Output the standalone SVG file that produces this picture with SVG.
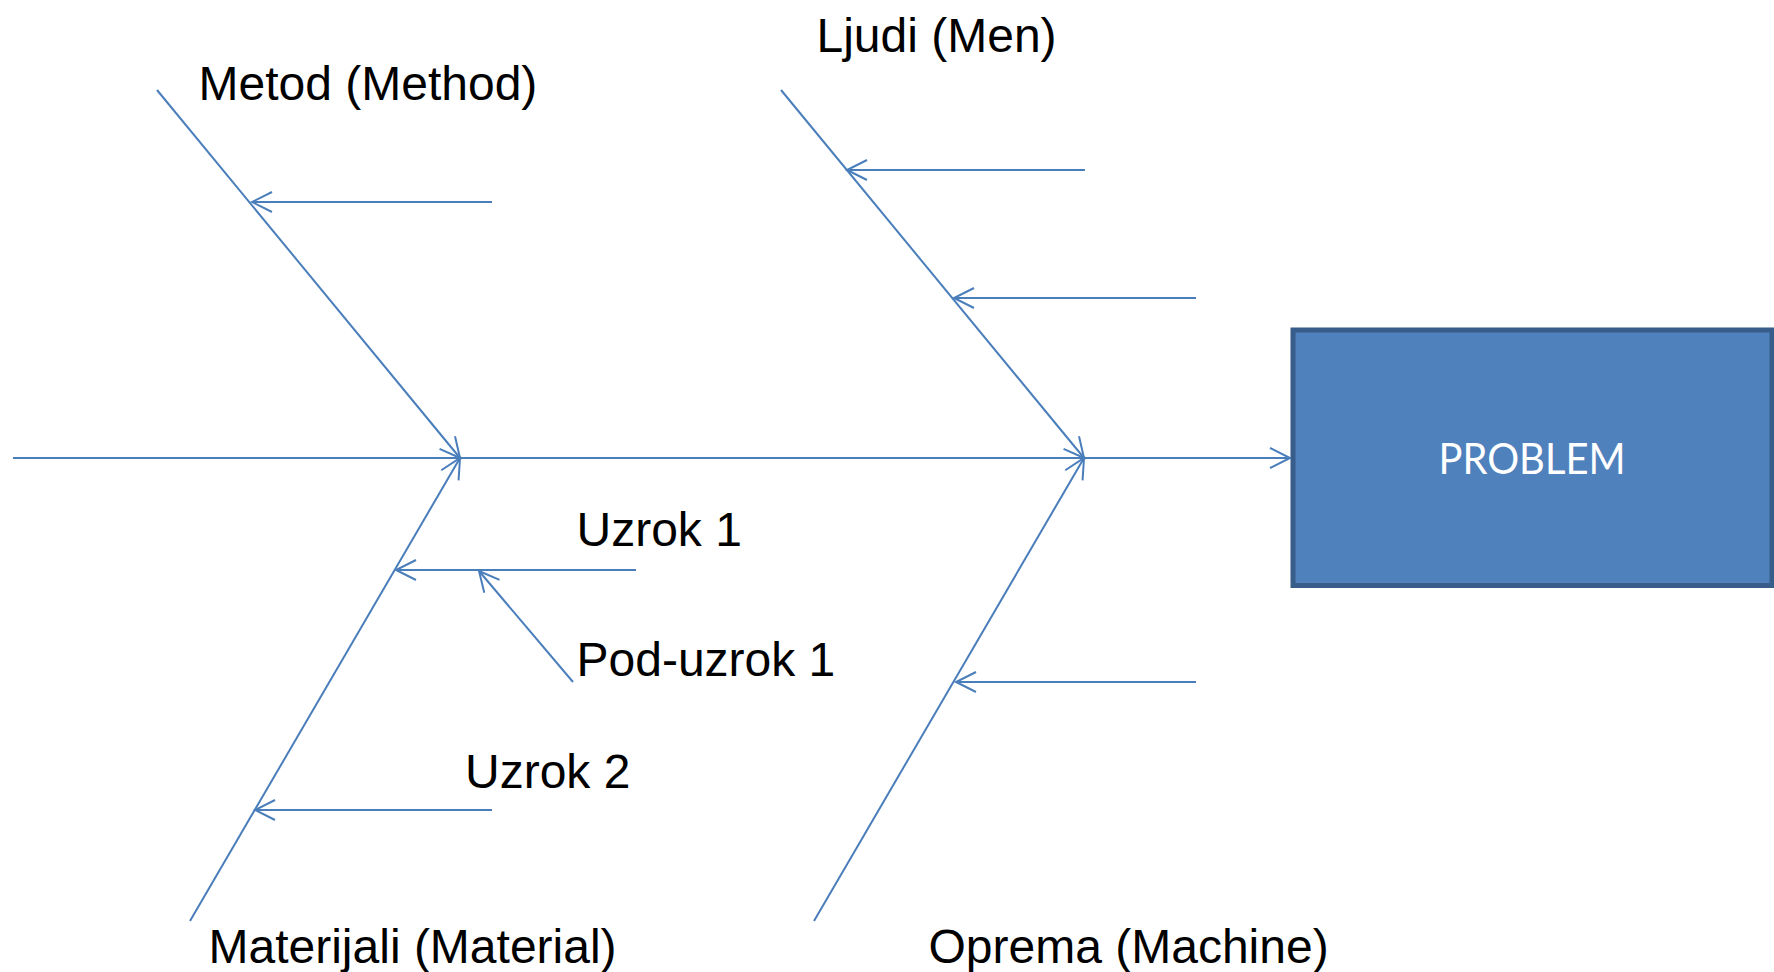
<svg xmlns="http://www.w3.org/2000/svg" width="1774" height="972" viewBox="0 0 1774 972">
<style>
.ln{stroke:#4A7EBB;stroke-width:2;fill:none}
.lbl{font-family:"Liberation Sans",Arial,sans-serif;font-size:48px;fill:#000}
.ptxt{font-family:Lato,"Open Sans",sans-serif;font-size:42px;fill:#fff;text-anchor:middle}
</style>
<defs>
<marker id="ah" markerUnits="userSpaceOnUse" markerWidth="30" markerHeight="30" viewBox="-25 -15 30 30" refX="0" refY="0" orient="auto" overflow="visible">
<path d="M-20,-10 L0,0 L-20,10" fill="none" stroke="#4A7EBB" stroke-width="2"/>
</marker>
</defs>
<rect width="1774" height="972" fill="#fff"/>
<g id="connectors">
<line class="ln" x1="13" y1="458" x2="1290" y2="458" marker-end="url(#ah)"/>
<line class="ln" x1="157" y1="90" x2="460" y2="458" marker-end="url(#ah)"/>
<line class="ln" x1="190" y1="921" x2="460" y2="458" marker-end="url(#ah)"/>
<line class="ln" x1="781" y1="90" x2="1084" y2="458" marker-end="url(#ah)"/>
<line class="ln" x1="814" y1="921" x2="1084" y2="458" marker-end="url(#ah)"/>
<line class="ln" x1="492" y1="202" x2="252" y2="202" marker-end="url(#ah)"/>
<line class="ln" x1="1085" y1="170" x2="847" y2="170" marker-end="url(#ah)"/>
<line class="ln" x1="1196" y1="298" x2="954" y2="298" marker-end="url(#ah)"/>
<line class="ln" x1="636" y1="570" x2="396" y2="570" marker-end="url(#ah)"/>
<line class="ln" x1="573" y1="682" x2="479" y2="571" marker-end="url(#ah)"/>
<line class="ln" x1="492" y1="810" x2="255" y2="810" marker-end="url(#ah)"/>
<line class="ln" x1="1196" y1="682" x2="956" y2="682" marker-end="url(#ah)"/>
</g>
<g id="problem">
<rect x="1293" y="330" width="479" height="255.5" fill="#4F81BD" stroke="#385D8A" stroke-width="5"/>
<text class="ptxt" x="1532" y="474" textLength="187" lengthAdjust="spacingAndGlyphs">PROBLEM</text>
</g>
<g id="metod"><text class="lbl" x="198.5" y="100">Metod (Method)</text></g>
<g id="ljudi"><text class="lbl" x="816.5" y="52">Ljudi (Men)</text></g>
<g id="uzrok1"><text class="lbl" x="576.5" y="546">Uzrok 1</text></g>
<g id="poduzrok1"><text class="lbl" x="576.5" y="676">Pod-uzrok 1</text></g>
<g id="uzrok2"><text class="lbl" x="465" y="788">Uzrok 2</text></g>
<g id="materijali"><text class="lbl" x="208.5" y="963">Materijali (Material)</text></g>
<g id="oprema"><text class="lbl" x="928.5" y="963">Oprema (Machine)</text></g>
</svg>
